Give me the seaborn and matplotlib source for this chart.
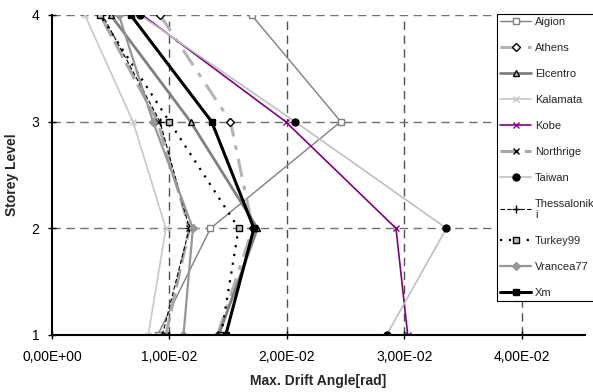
import pandas as pd
import numpy as np
import matplotlib
matplotlib.use("Agg")
import matplotlib.pyplot as plt
import seaborn as sns
from matplotlib.ticker import FuncFormatter

# Datos: deriva maxima por nivel (niveles 1..4)
niveles = [1, 2, 3, 4]
aigion = [0.0090, 0.0135, 0.0246, 0.0170]
athens = [0.0141, 0.0171, 0.0152, 0.0092]
elcentro = [0.0142, 0.0175, 0.0118, 0.0050]
kalamata = [0.0082, 0.0097, 0.0069, 0.0028]
kobe = [0.0303, 0.0293, 0.0199, 0.0077]
northrige = [0.0097, 0.0117, 0.0090, 0.0041]
taiwan = [0.0285, 0.0336, 0.0207, 0.0075]
thessaloniki = [0.0094, 0.0117, 0.0092, 0.0043]
turkey99 = [0.0144, 0.0159, 0.0100, 0.0041]
vrancea77 = [0.0112, 0.0120, 0.0086, 0.0057]
xm = [0.0148, 0.0172, 0.0136, 0.0067]

nombres = ["Aigion", "Athens", "Elcentro", "Kalamata", "Kobe", "Northrige",
           "Taiwan", "Thessalonik\ni", "Turkey99", "Vrancea77", "Xm"]
series = [aigion, athens, elcentro, kalamata, kobe, northrige,
          taiwan, thessaloniki, turkey99, vrancea77, xm]

# Estilo de cada serie
estilos = [
    dict(color="#808080", lw=1.0, ls="-", marker="s", ms=4, mfc="white", mec="#808080"),
    dict(color="#b4b4b4", lw=2.2, ls=(0, (6, 3, 1.5, 3)), marker="D", ms=4, mfc="white", mec="black"),
    dict(color="#808080", lw=2.0, ls="-", marker="^", ms=5, mfc="#c0c0c0", mec="black"),
    dict(color="#c8c8c8", lw=1.2, ls="-", marker="x", ms=4, mfc="#c8c8c8", mec="#c8c8c8"),
    dict(color="#800080", lw=1.2, ls="-", marker="x", ms=4, mfc="#800080", mec="#800080"),
    dict(color="#a8a8a8", lw=2.2, ls=(0, (6, 2)), marker="x", ms=5, mfc="black", mec="black"),
    dict(color="#c0c0c0", lw=1.2, ls="-", marker="o", ms=5, mfc="black", mec="black"),
    dict(color="black", lw=0.8, ls=(0, (4, 2)), marker="+", ms=6, mfc="black", mec="black"),
    dict(color="black", lw=1.6, ls=(0, (1, 3)), marker="s", ms=5, mfc="#c0c0c0", mec="black"),
    dict(color="#969696", lw=1.6, ls="-", marker="D", ms=4, mfc="#969696", mec="#969696"),
    dict(color="black", lw=2.2, ls="-", marker="s", ms=5, mfc="black", mec="black"),
]

sns.set_theme(style="white")
plt.rcParams["font.family"] = ["Liberation Sans", "DejaVu Sans"]

fig = plt.figure(figsize=(5.93, 3.92), dpi=100)
ax = fig.add_axes([52/593, 1-335/392, (585-52)/593, (335-15)/392])

for nombre, valores, est in zip(nombres, series, estilos):
    df = pd.DataFrame({"deriva": valores, "nivel": niveles})
    sns.lineplot(data=df, x="deriva", y="nivel", sort=False, ax=ax,
                 label=nombre, color=est["color"], linewidth=est["lw"],
                 linestyle=est["ls"], marker=est["marker"], markersize=est["ms"],
                 markerfacecolor=est["mfc"], markeredgecolor=est["mec"],
                 markeredgewidth=1.0)

ax.set_xlim(0, 0.0454)
ax.set_ylim(1, 4)
ax.set_xticks([0, 0.01, 0.02, 0.03, 0.04])
ax.set_yticks([1, 2, 3, 4])
ax.xaxis.set_major_formatter(FuncFormatter(lambda v, p: f"{v:.2E}".replace(".", ",")))

# Rejilla discontinua
for xv in [0.01, 0.02, 0.03, 0.04]:
    ax.axvline(xv, color="#505050", lw=1, ls=(0, (6, 4)), zorder=0)
for yv in [2, 3, 4]:
    ax.axhline(yv, color="#707070", lw=1, ls=(0, (6, 4)), zorder=0)

for s in ["top", "right"]:
    ax.spines[s].set_visible(False)
for s in ["left", "bottom"]:
    ax.spines[s].set_color("black")
    ax.spines[s].set_linewidth(1.5)

ax.tick_params(axis="both", direction="inout", length=6, width=1, labelsize=10,
               colors="black", bottom=True, left=True)
ax.tick_params(axis="x", pad=8)
ax.tick_params(axis="y", pad=6)
ax.set_xlabel("Max. Drift Angle[rad]", fontsize=10, fontweight="bold", labelpad=7)
ax.set_ylabel("Storey Level", fontsize=10, fontweight="bold", labelpad=9)

leg = ax.legend(loc="upper left", bbox_to_anchor=(497/593, 1-14/392),
                bbox_transform=fig.transFigure, fontsize=8, frameon=True,
                fancybox=False, edgecolor="black", framealpha=1,
                handlelength=2.8, handletextpad=0.3, labelspacing=1.43,
                borderpad=0.3, borderaxespad=0)
leg.get_frame().set_linewidth(0.8)

fig.savefig("out.png", dpi=100)
